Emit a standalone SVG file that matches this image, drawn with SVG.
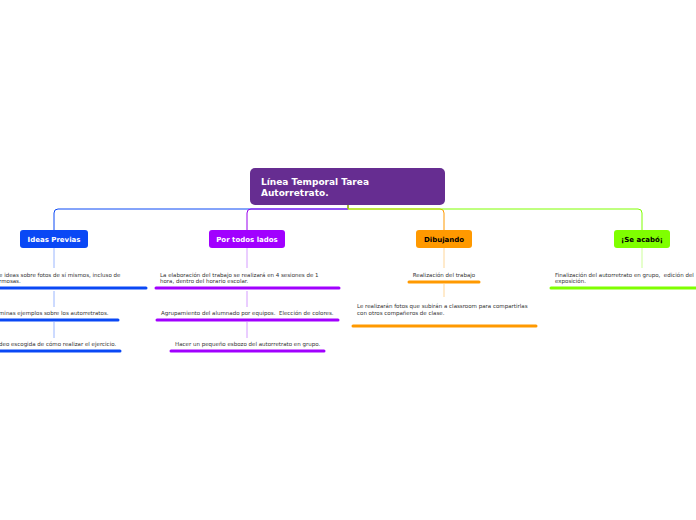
<svg xmlns="http://www.w3.org/2000/svg" width="696" height="520" viewBox="0 0 696 520">
<style>
.t{font-family:"DejaVu Sans",Verdana,sans-serif;font-size:5.5px;fill:#333;white-space:pre}
.m{font-family:"DejaVu Sans",Verdana,sans-serif;font-size:7px;font-weight:bold}
.r{font-family:"DejaVu Sans",Verdana,sans-serif;font-size:9px;font-weight:bold;fill:#fff}
.c{fill:none;stroke-width:1}
.u{stroke-width:3;stroke-linecap:round}
</style>
<rect width="696" height="520" fill="#fff"/>
<g id="connectors">
<path class="c" stroke="#0a48f5" d="M348,205 V209 H58 Q54,209 54,213 V230"/>
<path class="c" stroke="#9900ee" d="M348,205 V209 H251 Q247,209 247,213 V230"/>
<path class="c" stroke="#ff9900" d="M348,205 V209 H440 Q444,209 444,213 V230"/>
<path class="c" stroke="#7fff00" d="M348,205 V209 H638 Q642,209 642,213 V230"/>
<path class="c" stroke="#9ab6ff" d="M54,248 V268 M54,291 V307 M54,322 V338"/>
<path class="c" stroke="#d59cff" d="M247,248 V268 M247,291 V307 M247,322 V338"/>
<path class="c" stroke="#ffd699" d="M444,248 V268 M444,284 V297"/>
<path class="c" stroke="#ccff99" d="M642,248 V268"/>
</g>
<g id="root">
<rect x="250" y="168" width="195" height="37" rx="5" fill="#662d91"/>
<text class="r" x="261" y="185">Línea Temporal Tarea</text>
<text class="r" x="261" y="196">Autorretrato.</text>
</g>
<g id="ideas-previas">
<rect x="20" y="230" width="68" height="18" rx="3" fill="#0a48f5"/>
<text class="m" x="54" y="242" text-anchor="middle" fill="#fff">Ideas Previas</text>
</g>
<g id="ip-1">
<text class="t" x="-1" y="276.5">e ideas sobre fotos de sí mismos, incluso de</text>
<text class="t" x="-1" y="282.5">rmosas.</text>
<line class="u" x1="0" y1="288" x2="146" y2="288" stroke="#0a48f5"/>
</g>
<g id="ip-2">
<text class="t" x="-1" y="314.5">minas ejemplos sobre los autorretratos.</text>
<line class="u" x1="0" y1="320" x2="118" y2="320" stroke="#0a48f5"/>
</g>
<g id="ip-3">
<text class="t" x="-1" y="345.5">deo escogida de cómo realizar el ejercicio.</text>
<line class="u" x1="0" y1="351" x2="120" y2="351" stroke="#0a48f5"/>
</g>
<g id="por-todos-lados">
<rect x="209" y="230" width="76" height="18" rx="3" fill="#a100ff"/>
<text class="m" x="247" y="242" text-anchor="middle" fill="#fff">Por todos lados</text>
</g>
<g id="ptl-1">
<text class="t" x="160" y="276.5">La elaboración del trabajo se realizará en 4 sesiones de 1</text>
<text class="t" x="160" y="282.5">hora, dentro del horario escolar.</text>
<line class="u" x1="156" y1="288" x2="339" y2="288" stroke="#a100ff"/>
</g>
<g id="ptl-2">
<text class="t" x="161" y="314.5">Agrupamiento del alumnado por equipos.  Elección de colores.</text>
<line class="u" x1="157" y1="320" x2="338" y2="320" stroke="#a100ff"/>
</g>
<g id="ptl-3">
<text class="t" x="175" y="345.5">Hacer un pequeño esbozo del autorretrato en grupo.</text>
<line class="u" x1="171" y1="351" x2="324" y2="351" stroke="#a100ff"/>
</g>
<g id="dibujando">
<rect x="416" y="230" width="56" height="18" rx="3" fill="#ff9900"/>
<text class="m" x="444" y="242" text-anchor="middle" fill="#000">Dibujando</text>
</g>
<g id="dib-1">
<text class="t" x="444" y="276.5" text-anchor="middle">Realización del trabajo</text>
<line class="u" x1="409" y1="282" x2="479" y2="282" stroke="#ff9900"/>
</g>
<g id="dib-2">
<text class="t" x="357" y="307.5">Le realizarán fotos que subirán a classroom para compartirlas</text>
<text class="t" x="357" y="314.5">con otros compañeros de clase.</text>
<line class="u" x1="353" y1="326" x2="536" y2="326" stroke="#ff9900"/>
</g>
<g id="se-acabo">
<rect x="614" y="230" width="56" height="18" rx="3" fill="#7fff00"/>
<text class="m" x="642" y="242" text-anchor="middle" fill="#000">¡Se acabó¡</text>
</g>
<g id="sa-1">
<text class="t" x="555" y="276.5">Finalización del autorretrato en grupo,  edición del</text>
<text class="t" x="555" y="282.5">exposición.</text>
<line class="u" x1="551" y1="288" x2="697" y2="288" stroke="#7fff00"/>
</g>
</svg>
